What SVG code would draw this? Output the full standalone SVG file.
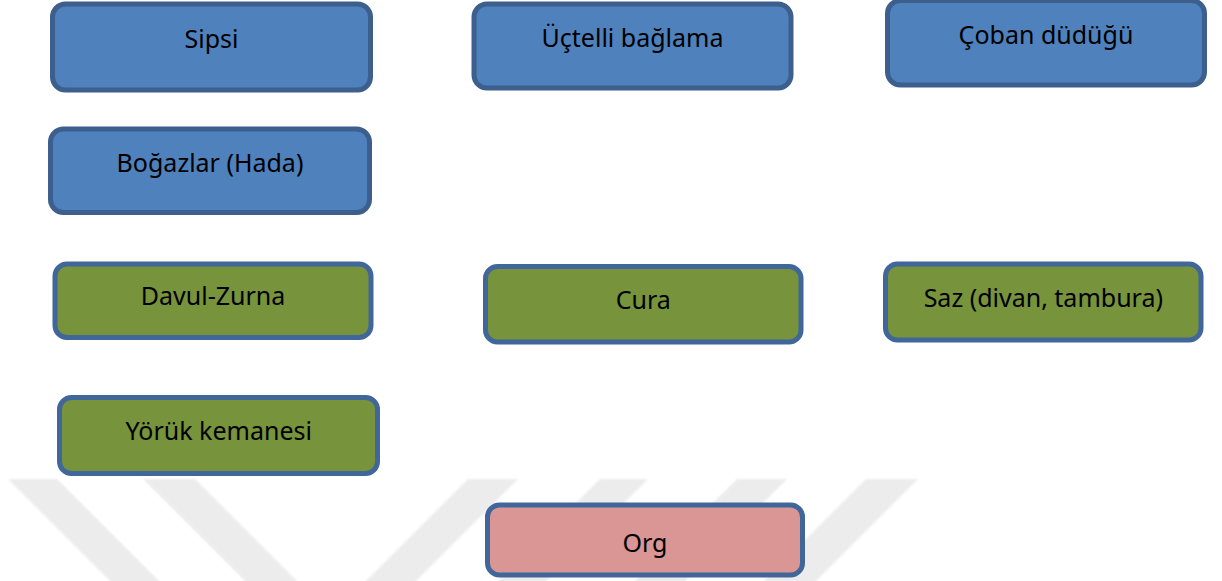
<svg xmlns="http://www.w3.org/2000/svg" width="1222" height="581" viewBox="0 0 1222 581">
  <defs>
    <style>
      .box { stroke-width: 5; }
      .blue { fill: #4F81BD; stroke: #3C5F8E; }
      .green { fill: #77933C; stroke: #41669A; }
      .pink { fill: #D99694; stroke: #41669A; }
      .label { font-family: "Noto Sans", "Open Sans", sans-serif; font-size: 25px; fill: #000; text-anchor: middle; }
      .stripe { fill: #ECECEC; }
    </style>
    <filter id="soft" x="-5%" y="-5%" width="110%" height="110%">
      <feGaussianBlur stdDeviation="1"/>
    </filter>
  </defs>
  <rect width="1222" height="581" fill="#FFFFFF"/>

  <!-- background watermark stripes -->
  <g id="watermark" filter="url(#soft)">
    <polygon class="stripe" points="8,479 57,479 161,583 112,583"/>
    <polygon class="stripe" points="143,479 195,479 299,583 247,583"/>
    <polygon class="stripe" points="468,479 518,479 414,583 364,583"/>
    <polygon class="stripe" points="600,479 648,479 544,583 496,583"/>
    <polygon class="stripe" points="737,479 787,479 683,583 633,583"/>
    <polygon class="stripe" points="866,479 918,479 814,583 762,583"/>
  </g>

  <g id="connectors"></g>

  <g id="sipsi">
    <rect class="box blue" x="52.5" y="4" width="318" height="86" rx="13"/>
    <text class="label" x="211.5" y="47.5">Sipsi</text>
  </g>
  <g id="uctelli-baglama">
    <rect class="box blue" x="474" y="4" width="317" height="84" rx="13"/>
    <text class="label" x="632.5" y="47">Üçtelli bağlama</text>
  </g>
  <g id="coban-duduğu">
    <rect class="box blue" x="887.5" y="0.5" width="317" height="84.5" rx="13"/>
    <text class="label" x="1046" y="43.5">Çoban düdüğü</text>
  </g>
  <g id="bogazlar">
    <rect class="box blue" x="50.5" y="129" width="319" height="83.5" rx="13"/>
    <text class="label" x="210" y="172">Boğazlar (Hada)</text>
  </g>
  <g id="davul-zurna">
    <rect class="box green" x="55" y="264" width="316" height="73.5" rx="12"/>
    <text class="label" x="213" y="305">Davul-Zurna</text>
  </g>
  <g id="cura">
    <rect class="box green" x="485.5" y="266.5" width="315.5" height="75.5" rx="12"/>
    <text class="label" x="643.3" y="308.5">Cura</text>
  </g>
  <g id="saz">
    <rect class="box green" x="885.5" y="264" width="315.5" height="76" rx="12"/>
    <text class="label" x="1043.3" y="307">Saz (divan, tambura)</text>
  </g>
  <g id="yoruk-kemanesi">
    <rect class="box green" x="59.5" y="397.5" width="318" height="76" rx="12"/>
    <text class="label" x="218.7" y="439.5">Yörük kemanesi</text>
  </g>
  <g id="org">
    <rect class="box pink" x="487.5" y="505" width="315" height="70" rx="12"/>
    <text class="label" x="645" y="552">Org</text>
  </g>
</svg>
